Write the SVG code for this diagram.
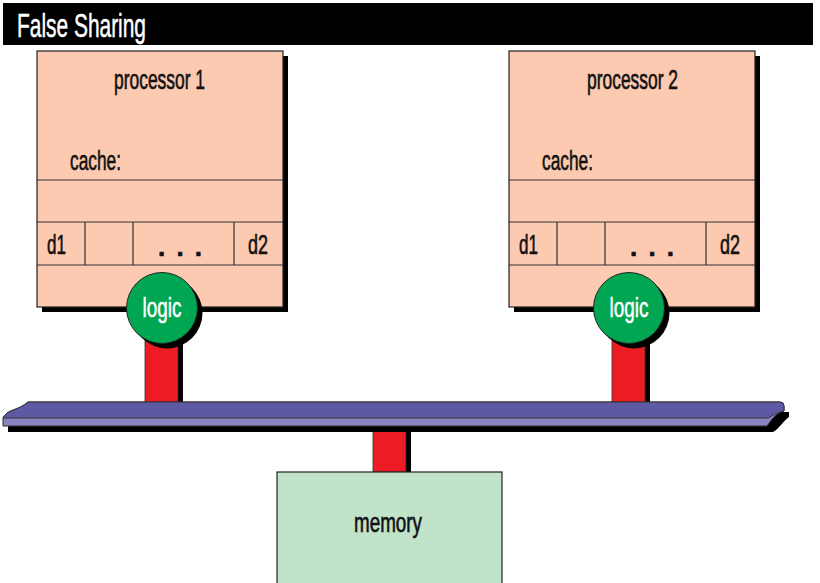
<svg xmlns="http://www.w3.org/2000/svg" width="820" height="583" viewBox="0 0 820 583">
  <style>
    .t { font-family: "Liberation Sans", Arial, sans-serif; fill: #111; stroke: #111; stroke-width: 0.6; }
    .w { fill: #fff; stroke: #fff; stroke-width: 0.5; }
    .proc { fill: #FCC9B1; stroke: #222; stroke-width: 1.2; }
    .line { stroke: #333; stroke-width: 1.2; fill: none; }
    .shadow { fill: #000; }
    .logic { fill: #00A651; stroke: #222; stroke-width: 1; }
    .post { fill: #ED1C24; stroke: #333; stroke-width: 0.8; }
  </style>

  <!-- title bar -->
  <g id="title">
    <rect x="3" y="3" width="810" height="42" fill="#000"/>
    <text x="17" y="37" font-size="34" class="t w" textLength="129" lengthAdjust="spacingAndGlyphs">False Sharing</text>
  </g>

  <!-- connectors: posts and bus -->
  <g id="connectors">
    <!-- posts from logic units to bus -->
    <rect x="150" y="340" width="33" height="65" class="shadow"/>
    <rect x="145" y="336" width="33" height="69" class="post"/>
    <rect x="617" y="340" width="33" height="65" class="shadow"/>
    <rect x="612" y="336" width="33" height="69" class="post"/>
    <!-- post from bus to memory -->
    <rect x="378" y="430" width="33" height="42" class="shadow"/>
    <rect x="373" y="428" width="33" height="44" class="post"/>
    <!-- bus -->
    <g id="bus">
      <path d="M8,432 L773,432 C780,428 782,422 789,417 L789,412 L774,412 L8,420 Z" class="shadow"/>
      <path d="M3,418 C7,409 18,411 28,402 L780,402 Q784,402 784,406 L784,411 C776,413 772,419 767,426 L3,426 Z" fill="#8884C0" stroke="#333" stroke-width="1"/>
      <path d="M3,418 C7,409 18,411 28,402 L780,402 Q784,402 784,406 L784,411 C776,413 772,416 768,418 L3,418 Z" fill="#5D5AA3" stroke="#333" stroke-width="1"/>
    </g>
  </g>

  <!-- processor 1 -->
  <g id="processor1">
    <rect x="42" y="56" width="246" height="256" class="shadow"/>
    <rect x="37" y="51" width="246" height="256" class="proc"/>
    <line x1="37" y1="180" x2="283" y2="180" class="line"/>
    <line x1="37" y1="222" x2="283" y2="222" class="line"/>
    <line x1="37" y1="265" x2="283" y2="265" class="line"/>
    <line x1="85" y1="222" x2="85" y2="265" class="line"/>
    <line x1="133" y1="222" x2="133" y2="265" class="line"/>
    <line x1="234" y1="222" x2="234" y2="265" class="line"/>
    <text x="114" y="89" font-size="27" class="t" textLength="91" lengthAdjust="spacingAndGlyphs">processor 1</text>
    <text x="70" y="170" font-size="27" class="t" textLength="51" lengthAdjust="spacingAndGlyphs">cache:</text>
    <text x="47" y="254" font-size="28" class="t" textLength="19" lengthAdjust="spacingAndGlyphs">d1</text>
    <text x="248" y="254" font-size="28" class="t" textLength="20" lengthAdjust="spacingAndGlyphs">d2</text>
    <text x="158" y="256" font-size="26" font-weight="bold" class="t" textLength="44" lengthAdjust="spacing">...</text>
  </g>
  <g id="logic1">
    <circle cx="167" cy="313" r="35.5" class="shadow"/>
    <circle cx="162" cy="308" r="35.5" class="logic"/>
    <text x="162" y="317" font-size="27" text-anchor="middle" class="t w" textLength="39" lengthAdjust="spacingAndGlyphs">logic</text>
  </g>

  <!-- processor 2 -->
  <g id="processor2">
    <rect x="514" y="56" width="246" height="256" class="shadow"/>
    <rect x="509" y="51" width="246" height="256" class="proc"/>
    <line x1="509" y1="180" x2="755" y2="180" class="line"/>
    <line x1="509" y1="222" x2="755" y2="222" class="line"/>
    <line x1="509" y1="265" x2="755" y2="265" class="line"/>
    <line x1="557" y1="222" x2="557" y2="265" class="line"/>
    <line x1="605" y1="222" x2="605" y2="265" class="line"/>
    <line x1="706" y1="222" x2="706" y2="265" class="line"/>
    <text x="587" y="89" font-size="27" class="t" textLength="91" lengthAdjust="spacingAndGlyphs">processor 2</text>
    <text x="542" y="170" font-size="27" class="t" textLength="51" lengthAdjust="spacingAndGlyphs">cache:</text>
    <text x="519" y="254" font-size="28" class="t" textLength="19" lengthAdjust="spacingAndGlyphs">d1</text>
    <text x="720" y="254" font-size="28" class="t" textLength="20" lengthAdjust="spacingAndGlyphs">d2</text>
    <text x="630" y="256" font-size="26" font-weight="bold" class="t" textLength="44" lengthAdjust="spacing">...</text>
  </g>
  <g id="logic2">
    <circle cx="634" cy="313" r="35.5" class="shadow"/>
    <circle cx="629" cy="308" r="35.5" class="logic"/>
    <text x="629" y="317" font-size="27" text-anchor="middle" class="t w" textLength="39" lengthAdjust="spacingAndGlyphs">logic</text>
  </g>

  <!-- memory -->
  <g id="memory">
    <rect x="277" y="472" width="225" height="115" fill="#C1E3CA" stroke="#222" stroke-width="1.2"/>
    <text x="354" y="532" font-size="27" class="t" textLength="68" lengthAdjust="spacingAndGlyphs">memory</text>
  </g>
</svg>
